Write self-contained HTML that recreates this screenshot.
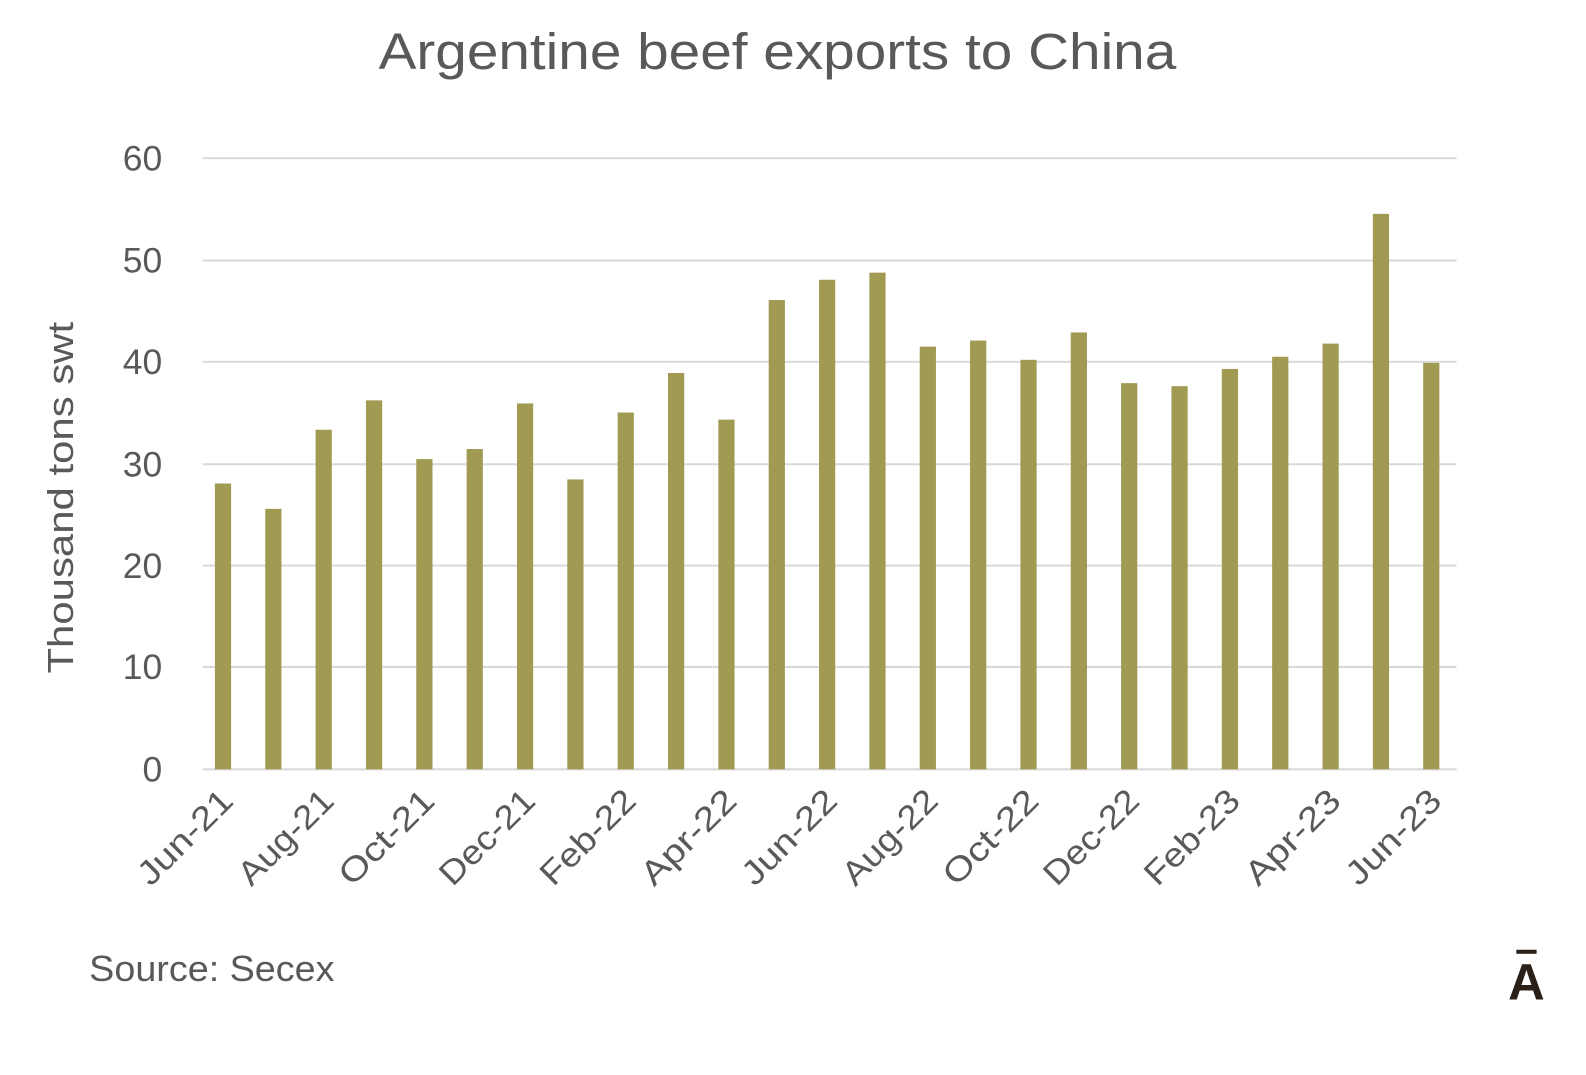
<!DOCTYPE html>
<html><head><meta charset="utf-8"><style>
html,body{margin:0;padding:0;background:#fff;}
</style></head><body>
<svg width="1586" height="1070" xmlns="http://www.w3.org/2000/svg" font-family="Liberation Sans, sans-serif">
<rect width="1586" height="1070" fill="#fff"/>
<g transform="scale(1.0136)">
<text x="767" y="68" text-anchor="middle" font-size="50" fill="#595959" textLength="787" lengthAdjust="spacingAndGlyphs">Argentine beef exports to China</text>
<g stroke="#d9d9d9" stroke-width="2">
<line x1="200" x2="1437" y1="156" y2="156"/>
<line x1="200" x2="1437" y1="257" y2="257"/>
<line x1="200" x2="1437" y1="357" y2="357"/>
<line x1="200" x2="1437" y1="458" y2="458"/>
<line x1="200" x2="1437" y1="558" y2="558"/>
<line x1="200" x2="1437" y1="658" y2="658"/>
<line x1="200" x2="1437" y1="759" y2="759"/>
</g>
<g font-size="35" fill="#595959" text-anchor="end">
<text x="160" y="168">60</text><text x="160" y="269">50</text><text x="160" y="369">40</text>
<text x="160" y="470">30</text><text x="160" y="570">20</text><text x="160" y="670">10</text><text x="160" y="771">0</text>
</g>
<text transform="translate(72,491) rotate(-90)" text-anchor="middle" font-size="36" fill="#595959" textLength="347" lengthAdjust="spacingAndGlyphs">Thousand tons swt</text>
<g fill="#a09a52" id="bars"></g>
<g id="labels" font-size="33" fill="#595959" text-anchor="end"></g>
<text x="88" y="968" font-size="36" fill="#595959" textLength="242" lengthAdjust="spacingAndGlyphs">Source: Secex</text>
<text x="1506" y="986" text-anchor="middle" font-size="50" font-weight="bold" fill="#2a2018">A</text>
<rect x="1496" y="937" width="20" height="4" fill="#2a2018"/>
</g>
<script>
var tops=[477,502,424,395,453,443,398,473,407,368,414,296,276,269,342,336,355,328,378,381,364,352,339,211,358];
var labs=["Jun-21","Aug-21","Oct-21","Dec-21","Feb-22","Apr-22","Jun-22","Aug-22","Oct-22","Dec-22","Feb-23","Apr-23","Jun-23"];
var ns="http://www.w3.org/2000/svg",b=document.getElementById("bars"),l=document.getElementById("labels");
for(var i=0;i<25;i++){var cx=220+i*49.67;var r=document.createElementNS(ns,"rect");
r.setAttribute("x",cx-8);r.setAttribute("y",tops[i]);r.setAttribute("width",16);r.setAttribute("height",759-tops[i]);b.appendChild(r);
if(i%2==0){var t=document.createElementNS(ns,"text");t.setAttribute("transform","translate("+(cx+12)+",792) rotate(-45)");t.setAttribute("textLength","118");t.setAttribute("lengthAdjust","spacingAndGlyphs");t.textContent=labs[i/2];l.appendChild(t);}}
</script>
</svg>
</body></html>
